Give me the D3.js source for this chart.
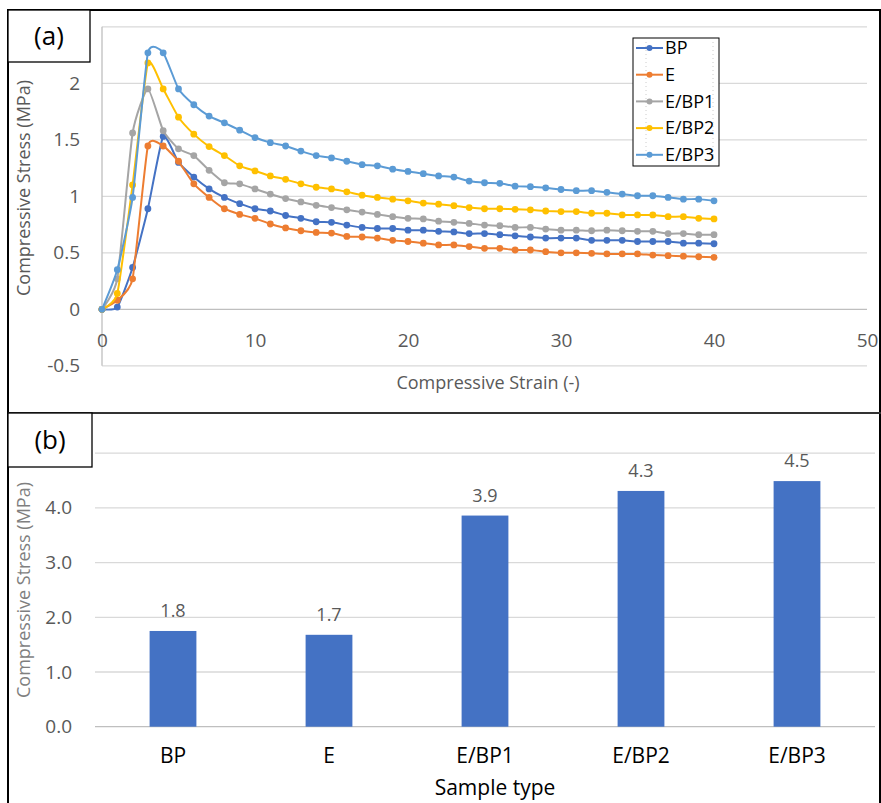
<!DOCTYPE html>
<html>
<head>
<meta charset="utf-8">
<script src="https://cdn.jsdelivr.net/npm/d3@7"></script>
<style>
  body { margin: 0; background: #fff; }
  svg { font-family: "Open Sans", sans-serif; }
</style>
</head>
<body>
<svg width="881" height="803"></svg>
<script>
// panel (a): stress-strain curves, one value per unit strain 0..40
const strain = d3.range(0, 41);

const seriesNames = ['BP', 'E', 'E/BP1', 'E/BP2', 'E/BP3'];
const seriesColors = ['#4472C4', '#ED7D31', '#A5A5A5', '#FFC000', '#5B9BD5'];

const bpVals = [0, 0.02, 0.37, 0.89, 1.53, 1.30, 1.17, 1.065, 0.99, 0.935,
  0.89, 0.87, 0.83, 0.805, 0.775, 0.77, 0.745, 0.725, 0.715, 0.715,
  0.70, 0.70, 0.69, 0.685, 0.67, 0.67, 0.66, 0.65, 0.64, 0.63,
  0.63, 0.63, 0.61, 0.61, 0.61, 0.60, 0.60, 0.60, 0.585, 0.585, 0.58];
const eVals = [0, 0.08, 0.27, 1.445, 1.445, 1.31, 1.11, 0.99, 0.89, 0.84,
  0.805, 0.755, 0.72, 0.695, 0.68, 0.675, 0.645, 0.64, 0.63, 0.61,
  0.60, 0.585, 0.57, 0.57, 0.555, 0.54, 0.54, 0.525, 0.525, 0.51,
  0.50, 0.50, 0.495, 0.49, 0.49, 0.49, 0.48, 0.475, 0.47, 0.465, 0.46];
const ebp1Vals = [0, 0.27, 1.56, 1.95, 1.58, 1.42, 1.36, 1.23, 1.12, 1.11,
  1.065, 1.02, 0.98, 0.95, 0.92, 0.90, 0.88, 0.86, 0.84, 0.82,
  0.805, 0.80, 0.78, 0.77, 0.76, 0.745, 0.74, 0.725, 0.725, 0.71,
  0.70, 0.70, 0.695, 0.70, 0.695, 0.69, 0.69, 0.67, 0.67, 0.66, 0.66];
const ebp2Vals = [0, 0.14, 1.10, 2.18, 1.95, 1.70, 1.55, 1.44, 1.36, 1.27,
  1.225, 1.18, 1.15, 1.11, 1.08, 1.065, 1.04, 1.01, 0.99, 0.975,
  0.96, 0.94, 0.93, 0.917, 0.90, 0.89, 0.89, 0.885, 0.88, 0.87,
  0.865, 0.865, 0.85, 0.85, 0.835, 0.835, 0.835, 0.82, 0.82, 0.805, 0.80];
const ebp3Vals = [0, 0.35, 0.99, 2.27, 2.27, 1.95, 1.81, 1.71, 1.65, 1.585,
  1.52, 1.475, 1.445, 1.40, 1.36, 1.34, 1.31, 1.28, 1.27, 1.24,
  1.22, 1.20, 1.18, 1.17, 1.135, 1.12, 1.115, 1.09, 1.085, 1.075,
  1.06, 1.05, 1.05, 1.035, 1.02, 1.005, 1.005, 0.99, 0.975, 0.975, 0.96];

const xTicksA = [0, 10, 20, 30, 40, 50];
const yGridA = [-0.5, 0, 0.5, 1, 1.5, 2, 2.5];
const yLabelsA = [-0.5, 0, 0.5, 1, 1.5, 2];   // 2.5 sits under the (a) tag

// panel (b): compressive strength per sample type
const sampleTypes = ['BP', 'E', 'E/BP1', 'E/BP2', 'E/BP3'];
const strength = [1.75, 1.68, 3.86, 4.31, 4.49];
const yGridB = [0, 1, 2, 3, 4, 5];
const yLabelsB = [0, 1, 2, 3, 4];             // 5.0 sits under the (b) tag

const svg = d3.select('svg');
const grey = '#595959';
const grid = '#d9d9d9';

// ---------- panel (a) ----------
const xA = d3.scaleLinear().domain([0, 50]).range([102, 867]);
const yA = d3.scaleLinear().domain([-0.5, 2.5]).range([365.8, 26.8]);

const gA = svg.append('g');

gA.selectAll('line.grid')
  .data(yGridA.filter(d => d !== 0))
  .enter().append('line')
  .attr('x1', xA(0)).attr('x2', xA(50))
  .attr('y1', d => yA(d)).attr('y2', d => yA(d))
  .attr('stroke', grid).attr('stroke-width', 1.3);

// axis lines
gA.append('line')
  .attr('x1', xA(0)).attr('x2', xA(50))
  .attr('y1', yA(0)).attr('y2', yA(0))
  .attr('stroke', '#bfbfbf').attr('stroke-width', 1.3);
gA.append('line')
  .attr('x1', xA(0)).attr('x2', xA(0))
  .attr('y1', yA(2.5)).attr('y2', yA(-0.5))
  .attr('stroke', '#bfbfbf').attr('stroke-width', 1.3);

// y tick labels
gA.append('g')
  .attr('transform', 'translate(80,0)')
  .call(d3.axisLeft(yA).tickValues(yLabelsA).tickSize(0).tickPadding(0)
    .tickFormat(d => String(d)))
  .call(g => g.select('.domain').remove())
  .selectAll('text')
  .attr('fill', grey).style('font-size', '19px')
  .style('font-family', '"Open Sans", sans-serif');

// x tick labels
gA.append('g')
  .attr('transform', 'translate(0,' + (yA(0) + 24) + ')')
  .call(d3.axisBottom(xA).tickValues(xTicksA).tickSize(0).tickPadding(0))
  .call(g => g.select('.domain').remove())
  .selectAll('text')
  .attr('fill', grey).style('font-size', '19px')
  .style('font-family', '"Open Sans", sans-serif');

gA.append('text')
  .attr('x', 488).attr('y', 389)
  .attr('text-anchor', 'middle')
  .attr('fill', grey).style('font-size', '18px')
  .text('Compressive Strain (-)');

gA.append('text')
  .attr('transform', 'translate(30,188) rotate(-90)')
  .attr('text-anchor', 'middle')
  .attr('fill', grey).style('font-size', '18px')
  .text('Compressive Stress (MPa)');

const allVals = [bpVals, eVals, ebp1Vals, ebp2Vals, ebp3Vals];
const series = seriesNames.map((name, i) => ({
  name: name,
  color: seriesColors[i],
  points: strain.map((s, j) => ({ x: s, y: allVals[i][j] }))
}));

const line = d3.line()
  .x(d => xA(d.x))
  .y(d => yA(d.y))
  .curve(d3.curveCardinal.tension(0.5));

const sg = gA.selectAll('g.series')
  .data(series)
  .enter().append('g');

sg.append('path')
  .attr('d', d => line(d.points))
  .attr('fill', 'none')
  .attr('stroke', d => d.color)
  .attr('stroke-width', 2);

sg.selectAll('circle')
  .data(d => d.points.map(p => ({ ...p, color: d.color })))
  .enter().append('circle')
  .attr('cx', d => xA(d.x))
  .attr('cy', d => yA(d.y))
  .attr('r', 3.4)
  .attr('fill', d => d.color);

// legend
const lg = gA.append('g');
lg.append('rect')
  .attr('x', 633).attr('y', 38).attr('width', 86).attr('height', 128)
  .attr('fill', '#fff').attr('stroke', '#000').attr('stroke-width', 1);
[646, 713].forEach(x => lg.append('line')
  .attr('x1', x).attr('x2', x).attr('y1', 42).attr('y2', 162)
  .attr('stroke', '#ccc').attr('stroke-dasharray', '1,3'));

const item = lg.selectAll('g.item')
  .data(series)
  .enter().append('g')
  .attr('transform', (d, i) => 'translate(0,' + (48 + i * 26.7) + ')');
item.append('line')
  .attr('x1', 636).attr('x2', 663).attr('y1', 0).attr('y2', 0)
  .attr('stroke', d => d.color).attr('stroke-width', 2);
item.append('circle')
  .attr('cx', 649.5).attr('cy', 0).attr('r', 3)
  .attr('fill', d => d.color);
item.append('text')
  .attr('x', 665).attr('y', 0).attr('dy', '0.35em')
  .attr('fill', '#000').style('font-size', '18px')
  .text(d => d.name);

// ---------- panel (b) ----------
const xB = d3.scaleBand().domain(sampleTypes).range([95, 875])
  .paddingInner(0.7).paddingOuter(0.35);
const yB = d3.scaleLinear().domain([0, 5]).range([726.7, 453.2]);

const gB = svg.append('g');

gB.selectAll('line.grid')
  .data(yGridB)
  .enter().append('line')
  .attr('x1', 95).attr('x2', 875)
  .attr('y1', d => yB(d)).attr('y2', d => yB(d))
  .attr('stroke', d => d === 0 ? '#bfbfbf' : grid).attr('stroke-width', 1.3);

gB.append('g')
  .attr('transform', 'translate(72,0)')
  .call(d3.axisLeft(yB).tickValues(yLabelsB).tickSize(0).tickPadding(0)
    .tickFormat(d3.format('.1f')))
  .call(g => g.select('.domain').remove())
  .selectAll('text')
  .attr('fill', grey).style('font-size', '19px')
  .style('font-family', '"Open Sans", sans-serif');

gB.selectAll('rect.bar')
  .data(strength)
  .enter().append('rect')
  .attr('x', (d, i) => xB(sampleTypes[i]))
  .attr('width', xB.bandwidth())
  .attr('y', d => yB(d))
  .attr('height', d => yB(0) - yB(d))
  .attr('fill', '#4472C4');

gB.selectAll('text.val')
  .data(strength)
  .enter().append('text')
  .attr('x', (d, i) => xB(sampleTypes[i]) + xB.bandwidth() / 2)
  .attr('y', d => yB(d) - 14)
  .attr('text-anchor', 'middle')
  .attr('fill', grey).style('font-size', '18px')
  .text(d => d.toFixed(1));

gB.append('g')
  .attr('transform', 'translate(0,' + (yB(0) + 21) + ')')
  .call(d3.axisBottom(xB).tickSize(0).tickPadding(0))
  .call(g => g.select('.domain').remove())
  .selectAll('text')
  .attr('fill', '#000').style('font-size', '21px')
  .style('font-family', '"Open Sans", sans-serif');

gB.append('text')
  .attr('x', 495).attr('y', 795)
  .attr('text-anchor', 'middle')
  .attr('fill', '#000').style('font-size', '21px')
  .text('Sample type');

gB.append('text')
  .attr('transform', 'translate(30,590) rotate(-90)')
  .attr('text-anchor', 'middle')
  .attr('fill', '#7f7f7f').style('font-size', '18px')
  .text('Compressive Stress (MPa)');

// ---------- frames and panel tags ----------
const fr = svg.append('g');
fr.append('rect')
  .attr('x', 8).attr('y', 10).attr('width', 872).attr('height', 800)
  .attr('fill', 'none').attr('stroke', '#000').attr('stroke-width', 2);
fr.append('line')
  .attr('x1', 8).attr('x2', 881).attr('y1', 413).attr('y2', 413)
  .attr('stroke', '#333').attr('stroke-width', 2);

const tags = [
  { t: '(a)', x: 8, y: 10, w: 82, h: 52 },
  { t: '(b)', x: 8, y: 413, w: 84, h: 54 }
];
tags.forEach(b => {
  fr.append('rect')
    .attr('x', b.x).attr('y', b.y).attr('width', b.w).attr('height', b.h)
    .attr('fill', '#fff').attr('stroke', '#000').attr('stroke-width', 1.3);
  fr.append('text')
    .attr('x', b.x + b.w / 2).attr('y', b.y + b.h / 2).attr('dy', '0.35em')
    .attr('text-anchor', 'middle')
    .attr('fill', '#000').style('font-size', '26px')
    .text(b.t);
});
</script>
</body>
</html>
